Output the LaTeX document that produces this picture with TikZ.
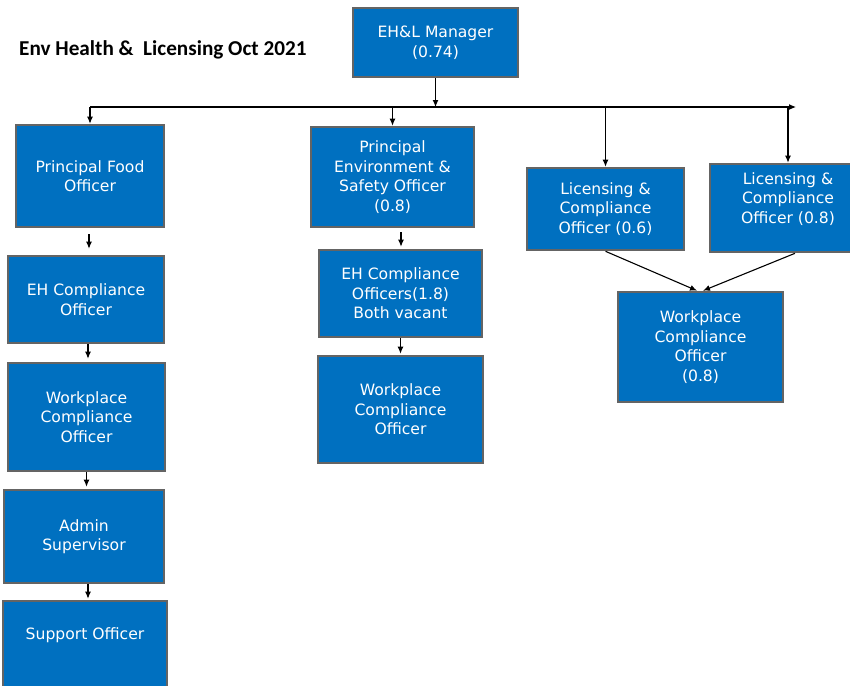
\documentclass[tikz,border=0pt]{standalone}
\usepackage{fontspec}
\setmainfont{DejaVu Sans}
\newfontfamily\titlefont{Carlito}
\usetikzlibrary{arrows.meta,calc}
\definecolor{boxblue}{HTML}{0070C0}
\definecolor{boxgrey}{HTML}{646464}
\tikzset{
  orgbox/.style={rectangle, fill=boxblue, draw=boxgrey, line width=2.6pt,
    text=white, align=center, inner sep=0pt,
    font=\fontsize{15.6}{19.5}\selectfont},
  boxtext/.style={text=white, align=center, inner sep=0pt,
    font=\fontsize{15.6}{19.5}\selectfont},
  conn/.style={line width=1.1pt, -{Latex[length=7pt,width=6pt]}}
}
\begin{document}
\begin{tikzpicture}[x=1pt,y=-1pt]
\useasboundingbox (0,0) rectangle (850,685);
\clip (0,0) rectangle (850,685);
% title
\node[anchor=base west, inner sep=0pt, font=\titlefont\bfseries\fontsize{21.2}{24}\selectfont] (title) at (19,56) {Env Health \&\ \ Licensing Oct 2021};
% boxes
\node[orgbox, minimum width=165pt, minimum height=69pt] (mgr) at (435.5,42.5) {EH\&L Manager\\(0.74)};
\node[orgbox, minimum width=148pt, minimum height=102pt] (pfo) at (90,176) {Principal Food\\Officer};
\node[orgbox, minimum width=156pt, minimum height=87pt] (ehc1) at (86,299.5) {EH Compliance\\Officer};
\node[orgbox, minimum width=157pt, minimum height=108pt] (wpc1) at (86.5,417) {Workplace\\Compliance\\Officer};
\node[orgbox, minimum width=160pt, minimum height=93pt] (adm) at (84,536.5) {Admin\\Supervisor};
\node[orgbox, minimum width=164pt, minimum height=99pt] (sup) at (85,650.5) {};
\node[boxtext] (supt) at (85,635) {Support Officer};
\node[orgbox, minimum width=163pt, minimum height=100pt] (pes) at (392.5,177) {Principal\\Environment \&\\Safety Officer\\(0.8)};
\node[orgbox, minimum width=163pt, minimum height=87pt] (ehc2) at (400.5,293.5) {EH Compliance\\Officers(1.8)\\Both vacant};
\node[orgbox, minimum width=165pt, minimum height=107pt] (wpc2) at (400.5,409.5) {Workplace\\Compliance\\Officer};
\node[orgbox, minimum width=157pt, minimum height=82pt] (lic1) at (605.5,209) {Licensing \&\\Compliance\\Officer (0.6)};
\node[orgbox, minimum width=156pt, minimum height=88pt] (lic2) at (788,208) {};
\node[boxtext] (lic2t) at (788,199) {Licensing \&\\Compliance\\Officer (0.8)};
\node[orgbox, minimum width=165pt, minimum height=110pt] (wpc3) at (700.5,347) {Workplace\\Compliance\\Officer\\(0.8)};
% bus
\coordinate (busL) at (90,107);
\coordinate (busR) at (796,107);
\draw[conn] (busL) -- (busR);
\draw[conn] (mgr.south) -- (mgr.south |- busL);
\draw[conn] (busL) -- (pfo.north);
\draw[conn] (pes.north |- busL) -- (pes.north);
\draw[conn] (lic1.north |- busL) -- (lic1.north);
\draw[conn] (lic2.north |- busL) -- (lic2.north);
% left column
\draw[conn, shorten <=6pt, shorten >=6pt] ([xshift=-1pt]pfo.south) -- ([xshift=-1pt]pfo.south |- ehc1.north);
\draw[conn, shorten >=3pt] ([xshift=2pt]ehc1.south) -- ([xshift=2pt]ehc1.south |- wpc1.north);
\draw[conn, shorten >=2pt] (wpc1.south) -- (wpc1.south |- adm.north);
\draw[conn, shorten >=1pt] ([xshift=4pt]adm.south) -- ([xshift=4pt]adm.south |- sup.north);
% middle column
\draw[conn, shorten <=4pt, shorten >=2pt] ([xshift=8.5pt]pes.south) -- ([xshift=8.5pt]pes.south |- ehc2.north);
\draw[conn, shorten >=1pt] (ehc2.south) -- (ehc2.south |- wpc2.north);
% right
\draw[conn] (lic1.south) -- ([xshift=-3.5pt]wpc3.north);
\draw[conn] ([xshift=7pt]lic2.south) -- ([xshift=2.5pt]wpc3.north);
\end{tikzpicture}
\end{document}
